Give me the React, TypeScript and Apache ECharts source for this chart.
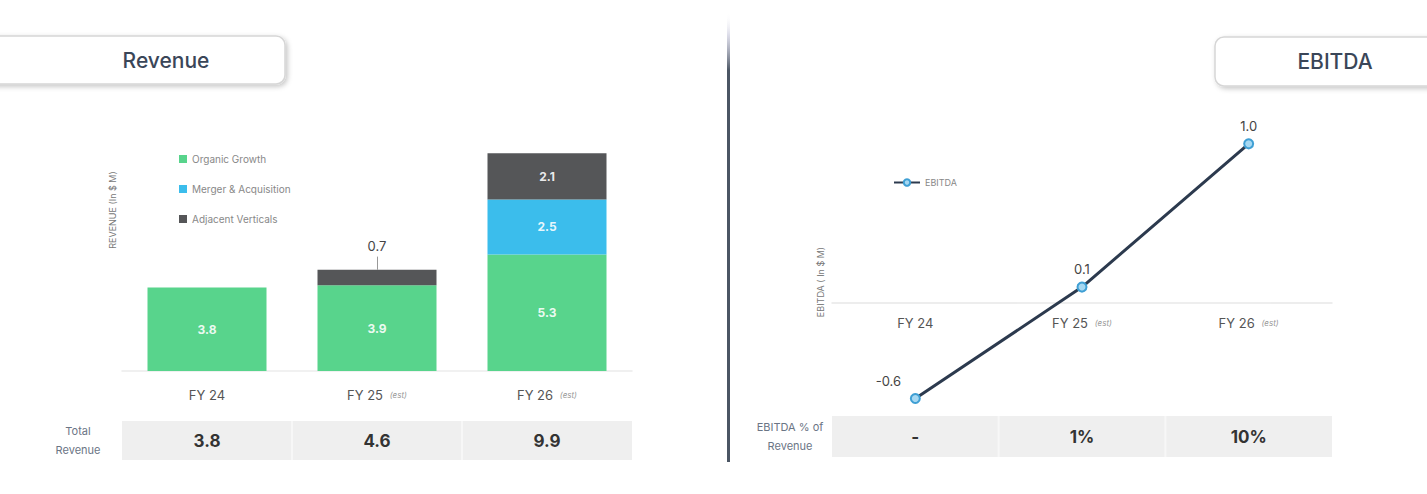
import React, { useEffect, useRef } from "react";
import * as echarts from "echarts";

const categories = ["FY 24", "FY 25", "FY 26"];
const estFlags = [false, true, true];
const organicGrowth = [3.8, 3.9, 5.3];
const mergerAcquisition = [null, null, 2.5];
const adjacentVerticals = [null, 0.7, 2.1];
const ebitda = [-0.6, 0.1, 1.0];
const ebitdaPctOfRevenue = ["-", "1%", "10%"];

const FONT = "Inter, 'Noto Sans', sans-serif";
const GREEN = "#58d48c";
const BLUE = "#3bbdec";
const DARK = "#555658";

const L_GRID = { left: 122, top: 151, width: 510, height: 220 };
const R_GRID = { left: 832, top: 112, width: 500, height: 191 };

export default function App() {
  const ref = useRef<HTMLDivElement>(null);

  useEffect(() => {
    if (!ref.current) return;
    const chart = echarts.init(ref.current, undefined, { renderer: "svg" });

    const totals = categories.map((_, i) =>
      [organicGrowth[i], mergerAcquisition[i], adjacentVerticals[i]].reduce(
        (s: number, v) => s + (v ?? 0),
        0
      )
    );

    const catLabel = (v: string, i: number) =>
      estFlags[i] ? `{a|${v}}  {b|(est)}` : `{a|${v}}`;
    const rich = {
      a: { fontSize: 13, color: "#555", fontFamily: FONT },
      b: { fontSize: 8, color: "#999", fontStyle: "italic", fontFamily: FONT },
    };

    const inLabel = {
      show: true,
      position: "inside",
      color: "rgba(255,255,255,0.9)",
      fontWeight: "bold",
      fontSize: 12,
      fontFamily: FONT,
      formatter: (p: any) => (p.value == null ? "" : p.value.toFixed(1)),
    };

    const tableGraphics = (
      grid: { left: number; width: number },
      y: number,
      h: number,
      values: string[],
      title: string[],
      titleX: number
    ) => {
      const band = grid.width / categories.length;
      const els: any[] = [
        {
          type: "rect",
          shape: { x: grid.left, y, width: grid.width, height: h },
          style: { fill: "#efefef" },
          silent: true,
        },
      ];
      for (let i = 1; i < categories.length; i++) {
        els.push({
          type: "rect",
          shape: { x: grid.left + band * i - 1, y, width: 2, height: h },
          style: { fill: "#f7f7f7" },
          silent: true,
        });
      }
      values.forEach((v, i) => {
        els.push({
          type: "text",
          x: grid.left + band * (i + 0.5),
          y: y + h / 2,
          style: {
            text: v,
            fontSize: 17,
            fontWeight: "bold",
            fill: "#333",
            fontFamily: FONT,
            align: "center",
            verticalAlign: "middle",
          },
        });
      });
      els.push({
        type: "text",
        x: titleX,
        y: y + h / 2,
        style: {
          text: title.join("\n"),
          fontSize: 11,
          lineHeight: 19,
          fill: "#6b7585",
          fontFamily: FONT,
          align: "center",
          verticalAlign: "middle",
        },
      });
      return els;
    };

    const titleBox = (x: number, y: number, w: number, h: number, text: string, tx: number) => [
      {
        type: "rect",
        shape: { x, y, width: w, height: h, r: 9 },
        style: {
          fill: "#fff",
          stroke: "#d6d6d6",
          lineWidth: 1.5,
          shadowBlur: 5,
          shadowColor: "rgba(0,0,0,0.22)",
          shadowOffsetX: 2,
          shadowOffsetY: 2,
        },
      },
      {
        type: "text",
        x: tx,
        y: y + h / 2,
        style: {
          text,
          fontSize: 21,
          fill: "#3a4658",
          fontFamily: FONT,
          fontWeight: 500,
          align: "center",
          verticalAlign: "middle",
        },
      },
    ];

    const option: any = {
      animation: false,
      textStyle: { fontFamily: FONT },
      grid: [
        { ...L_GRID, containLabel: false },
        { ...R_GRID, containLabel: false },
      ],
      legend: [
        {
          data: ["Organic Growth", "Merger & Acquisition", "Adjacent Verticals"],
          orient: "vertical",
          left: 174,
          top: 149,
          itemWidth: 8,
          itemHeight: 8,
          itemGap: 20,
          icon: "rect",
          textStyle: { fontSize: 10, color: "#888", fontFamily: FONT },
          selectedMode: false,
        },
        {
          data: ["EBITDA"],
          left: 888,
          top: 173,
          itemWidth: 26,
          itemHeight: 8,
          itemGap: 2,
          textStyle: { fontSize: 9, color: "#888", fontFamily: FONT },
          selectedMode: false,
        },
      ],
      xAxis: [
        {
          type: "category",
          gridIndex: 0,
          data: categories,
          axisLine: { lineStyle: { color: "#ececec", width: 1.5 } },
          axisTick: { show: false },
          axisLabel: { margin: 17, formatter: catLabel, rich },
        },
        {
          type: "category",
          gridIndex: 1,
          data: categories,
          axisLine: { onZero: false, lineStyle: { color: "#e8e8e8", width: 1.5 } },
          axisTick: { show: false },
          axisLabel: { margin: 13, formatter: catLabel, rich },
        },
      ],
      yAxis: [
        { type: "value", gridIndex: 0, min: 0, max: 10, show: false },
        { type: "value", gridIndex: 1, min: 0, max: 1.2, show: false },
      ],
      series: [
        {
          name: "Organic Growth",
          type: "bar",
          stack: "rev",
          xAxisIndex: 0,
          yAxisIndex: 0,
          barWidth: "70%",
          data: organicGrowth,
          itemStyle: { color: GREEN },
          label: inLabel,
        },
        {
          name: "Merger & Acquisition",
          type: "bar",
          stack: "rev",
          xAxisIndex: 0,
          yAxisIndex: 0,
          data: mergerAcquisition,
          itemStyle: { color: BLUE },
          label: inLabel,
        },
        {
          name: "Adjacent Verticals",
          type: "bar",
          stack: "rev",
          xAxisIndex: 0,
          yAxisIndex: 0,
          data: adjacentVerticals.map((v, i) =>
            i === 1 ? { value: v, label: { show: false } } : v
          ),
          itemStyle: { color: DARK },
          label: inLabel,
          markLine: {
            silent: true,
            symbol: "none",
            lineStyle: { color: "#999", width: 1, type: "solid" },
            label: {
              show: true,
              position: "end",
              distance: 4,
              color: "#444",
              fontSize: 13,
              fontFamily: FONT,
              formatter: () => (adjacentVerticals[1] as number).toFixed(1),
            },
            data: [
              [
                { coord: [1, totals[1]] },
                { coord: [1, totals[1] + 0.6] },
              ],
            ],
          },
        },
        {
          name: "EBITDA",
          type: "line",
          xAxisIndex: 1,
          yAxisIndex: 1,
          clip: false,
          data: ebitda.map((v, i) =>
            i === 0 ? { value: v, label: { offset: [-27, 0] } } : v
          ),
          symbol: "circle",
          symbolSize: 9,
          lineStyle: { color: "#2c3a4e", width: 3 },
          itemStyle: { color: "#a6d8f2", borderColor: "#3f9fd4", borderWidth: 2 },
          label: {
            show: true,
            position: "top",
            distance: 6,
            color: "#444",
            fontSize: 13,
            fontFamily: FONT,
            formatter: (p: any) => p.value.toFixed(1),
          },
          z: 5,
        },
      ],
      graphic: [
        ...titleBox(-20, 36, 305, 48, "Revenue", 166),
        ...titleBox(1215, 37, 240, 49, "EBITDA", 1335),
        {
          type: "rect",
          shape: { x: 727, y: 12, width: 3, height: 450 },
          style: {
            fill: {
              type: "linear",
              x: 0,
              y: 0,
              x2: 0,
              y2: 1,
              colorStops: [
                { offset: 0, color: "rgba(255,255,255,0)" },
                { offset: 0.05, color: "rgba(200,200,220,0.6)" },
                { offset: 0.13, color: "#4b5664" },
                { offset: 1, color: "#4b5664" },
              ],
            },
          },
        },
        {
          type: "text",
          x: 112,
          y: 210,
          rotation: Math.PI / 2,
          style: {
            text: "REVENUE (In $ M)",
            fontSize: 9,
            fill: "#777",
            fontFamily: FONT,
            align: "center",
            verticalAlign: "middle",
          },
        },
        {
          type: "text",
          x: 820,
          y: 282,
          rotation: Math.PI / 2,
          style: {
            text: "EBITDA ( In $ M)",
            fontSize: 9,
            fill: "#777",
            fontFamily: FONT,
            align: "center",
            verticalAlign: "middle",
          },
        },
        ...tableGraphics(
          L_GRID,
          421,
          39,
          totals.map((t) => t.toFixed(1)),
          ["Total", "Revenue"],
          78
        ),
        ...tableGraphics(R_GRID, 416, 41, ebitdaPctOfRevenue, ["EBITDA % of", "Revenue"], 790),
      ],
    };

    chart.setOption(option);
    return () => chart.dispose();
  }, []);

  return (
    <div
      ref={ref}
      style={{ position: "fixed", left: 0, top: 0, width: 1427, height: 494, background: "#fff" }}
    />
  );
}
